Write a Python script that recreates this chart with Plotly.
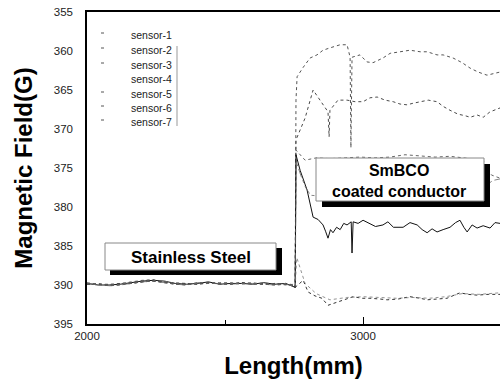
import plotly.graph_objects as go

# ---------------- data ----------------
sensor_names = ["sensor-1", "sensor-2", "sensor-3", "sensor-4", "sensor-5", "sensor-6", "sensor-7"]

# stainless steel section (all sensors overlap near 390 G)
ss_x = [2000, 2040, 2080, 2120, 2160, 2200, 2240, 2280, 2320, 2360, 2400, 2440,
        2480, 2520, 2560, 2600, 2640, 2680, 2720, 2750]
ss_s1 = [389.8, 389.9, 390.0, 389.9, 389.7, 389.5, 389.4, 389.6, 389.8, 389.9, 389.8, 389.7,
         389.9, 389.8, 389.7, 389.9, 389.8, 389.9, 389.8, 390.0]
ss_s2 = [389.9, 389.8, 390.1, 390.0, 389.8, 389.6, 389.5, 389.7, 389.9, 390.0, 389.7, 389.8,
         389.8, 389.9, 389.8, 389.8, 389.9, 390.0, 389.9, 390.1]
ss_s3 = [389.7, 389.9, 389.9, 389.8, 389.6, 389.4, 389.3, 389.7, 389.7, 389.8, 389.9, 389.8,
         389.7, 389.7, 389.9, 389.7, 389.9, 389.8, 390.0, 389.9]
ss_s4 = [389.8, 390.0, 390.0, 389.9, 389.7, 389.5, 389.4, 389.5, 389.8, 389.9, 389.8, 389.6,
         389.9, 389.8, 389.8, 389.9, 389.7, 389.9, 389.8, 390.2]
ss_s5 = [389.9, 389.9, 390.1, 389.8, 389.8, 389.6, 389.5, 389.6, 389.9, 389.8, 389.9, 389.7,
         389.8, 389.9, 389.7, 389.8, 389.9, 389.8, 389.9, 390.1]

# SmBCO coated conductor section, per sensor
s1_x = [2754, 2757, 2761, 2783, 2808, 2833, 2855, 2880, 2917, 2942, 2953, 2956, 2960, 2989, 3014,
        3036, 3072, 3098, 3134, 3170, 3207, 3232, 3268, 3290, 3326, 3359, 3388, 3417, 3449, 3496]
s1_y = [390.3, 366.3, 363.3, 362.1, 360.9, 360.5, 359.9, 359.6, 359.2, 359.2, 360.8, 372.4, 360.8, 360.5, 361.4,
        361.5, 360.9, 360.3, 360.1, 359.9, 360.1, 360.1, 360.5, 360.5, 360.9, 361.5, 362.2, 362.7, 363.1, 362.7]

s2_x = [2754, 2757, 2790, 2819, 2844, 2873, 2877, 2880, 2909, 2942, 2971, 3000, 3025, 3051, 3080, 3109,
        3134, 3159, 3181, 3207, 3236, 3268, 3290, 3315, 3344, 3370, 3388, 3413, 3435, 3460, 3496]
s2_y = [390.3, 371.4, 368.6, 365.0, 366.3, 367.8, 371.0, 367.6, 366.3, 366.3, 366.5, 366.5, 366.0, 365.9, 366.3, 366.5,
        366.8, 366.9, 366.7, 366.5, 366.3, 366.5, 367.1, 367.6, 368.1, 368.3, 368.5, 368.2, 368.5, 367.8, 367.3]

s3_x = [2754, 2757, 2790, 2830, 2880, 2935, 2989, 3043, 3098, 3152, 3207, 3261, 3315, 3370, 3435, 3465, 3496]
s3_y = [390.3, 372.7, 374.0, 373.7, 373.8, 373.7, 373.6, 373.7, 373.6, 373.3, 373.5, 373.6, 373.5, 373.7, 374.0, 375.9, 376.3]

s4_x = [2754, 2757, 2772, 2797, 2819, 2837, 2855, 2864, 2873, 2882, 2891, 2904, 2917, 2930, 2942, 2957, 2960,
        2964, 2982, 3000, 3025, 3045, 3072, 3090, 3110, 3145, 3170, 3196, 3214, 3232, 3250, 3268,
        3290, 3315, 3335, 3351, 3365, 3377, 3395, 3413, 3435, 3460, 3478, 3496]
s4_y = [390.3, 373.3, 375.3, 377.8, 381.3, 381.6, 382.3, 383.1, 384.0, 382.9, 383.3, 382.6, 382.9, 382.1, 382.3, 381.9, 385.9,
        381.9, 382.1, 381.7, 382.1, 382.5, 382.3, 381.9, 382.6, 382.6, 382.0, 382.3, 382.9, 383.3, 382.8, 383.2,
        382.9, 382.6, 382.0, 381.7, 382.6, 383.2, 382.3, 382.7, 382.4, 382.7, 382.0, 382.1]

s5_x = [2754, 2783, 2801, 2826, 2851, 2873, 2906, 2935, 2964, 2996, 3025, 3062, 3087, 3127, 3170, 3207,
        3232, 3268, 3304, 3351, 3380, 3413, 3453, 3496]
s5_y = [390.3, 389.4, 390.9, 391.4, 391.7, 392.6, 392.2, 391.8, 391.5, 391.7, 391.7, 391.8, 391.9, 391.8, 391.5, 391.7,
        391.9, 391.8, 391.7, 391.0, 391.2, 391.3, 391.2, 391.2]

s6_x = [2754, 2760, 2790, 2830, 2880, 2940, 3000, 3060, 3120, 3180, 3240, 3300, 3360, 3420, 3496]
s6_y = [390.2, 386.5, 389.8, 391.1, 391.9, 391.6, 391.5, 391.6, 391.7, 391.6, 391.7, 391.5, 391.1, 391.2, 391.0]

s7_x = [2754, 2758, 2775, 2792, 2810, 2850, 2950, 3050, 3150, 3250, 3350, 3440, 3470, 3496]
s7_y = [390.2, 374.2, 376.0, 377.5, 378.5, 378.6, 378.4, 378.5, 378.3, 378.4, 378.2, 377.4, 376.6, 376.4]

# axis ticks
x_tickvals = [2000, 3000]
x_ticktext = ["2000", "3000"]
y_tickvals = [355, 360, 365, 370, 375, 380, 385, 390, 395]

# ---------------- figure ----------------
W, H = 500, 381
L, T, R, B = 87, 12, 0, 57
PW, PH = W - L - R, H - T - B


def px(x):
    return (x - L) / PW


def py(y):
    return 1 - (y - T) / PH


series = [
    (ss_x + s1_x, ss_s1 + s1_y, dict(color="#555555", width=1, dash="dot")),
    (ss_x + s2_x, ss_s2 + s2_y, dict(color="#4a4a4a", width=1, dash="dot")),
    (ss_x + s3_x, ss_s3 + s3_y, dict(color="#666666", width=1, dash="dot")),
    (ss_x + s4_x, ss_s4 + s4_y, dict(color="#111111", width=1)),
    (ss_x + s5_x, ss_s5 + s5_y, dict(color="#333333", width=1, dash="3px,3px")),
    (ss_x + s6_x, ss_s4 + s6_y, dict(color="#777777", width=0.8, dash="dot")),
    (ss_x + s7_x, ss_s2 + s7_y, dict(color="#666666", width=0.8, dash="dashdot")),
]

fig = go.Figure()
for name, (xs, ys, ln) in zip(sensor_names, series):
    fig.add_trace(go.Scatter(x=xs, y=ys, mode="lines", name=name, line=ln,
                             showlegend=False, hoverinfo="skip"))

shapes = []
annotations = []

# manual legend
leg_rows = [35, 50, 65, 79, 94, 108, 122]
for i, (name, yy) in enumerate(zip(sensor_names, leg_rows)):
    annotations.append(dict(x=px(129), y=py(yy), xref="paper", yref="paper", text=name,
                            showarrow=False, xanchor="left", yanchor="middle",
                            font=dict(size=10.5, color="#222222", family="Liberation Sans, Arial")))
    if i != 3:
        shapes.append(dict(type="line", xref="paper", yref="paper",
                           x0=px(101), x1=px(104), y0=py(yy - 2), y1=py(yy - 2),
                           line=dict(color="#555555", width=1)))
shapes.append(dict(type="line", xref="paper", yref="paper", x0=px(177), x1=px(177),
                   y0=py(46), y1=py(126), line=dict(color="#999999", width=1)))

# Stainless Steel label box
shapes.append(dict(type="rect", xref="paper", yref="paper", x0=px(110), x1=px(282),
                   y0=py(248), y1=py(275), fillcolor="black", line=dict(width=0)))
shapes.append(dict(type="rect", xref="paper", yref="paper", x0=px(105), x1=px(276),
                   y0=py(243), y1=py(270), fillcolor="white", line=dict(color="#888888", width=1)))
annotations.append(dict(x=px(191), y=py(257), xref="paper", yref="paper", text="<b>Stainless Steel</b>",
                        showarrow=False, xanchor="center", yanchor="middle",
                        font=dict(size=17, color="black", family="Liberation Sans, Arial")))

# SmBCO label box
shapes.append(dict(type="rect", xref="paper", yref="paper", x0=px(322), x1=px(490),
                   y0=py(164), y1=py(207), fillcolor="black", line=dict(width=0)))
shapes.append(dict(type="rect", xref="paper", yref="paper", x0=px(316), x1=px(484),
                   y0=py(158), y1=py(201), fillcolor="white", line=dict(color="#888888", width=1)))
annotations.append(dict(x=px(399), y=py(181), xref="paper", yref="paper",
                        text="<b>SmBCO</b><br><b>coated conductor</b>",
                        showarrow=False, xanchor="center", yanchor="middle",
                        font=dict(size=16, color="black", family="Liberation Sans, Arial")))

fig.update_layout(
    width=W, height=H,
    margin=dict(l=L, r=R, t=T, b=B, pad=0, autoexpand=False),
    paper_bgcolor="white", plot_bgcolor="white",
    showlegend=False,
    shapes=shapes,
    annotations=annotations,
    font=dict(family="Liberation Sans, Arial", color="#222222"),
)
fig.update_xaxes(
    range=[2000, 3496], showgrid=False, zeroline=False, automargin=False,
    showline=True, linecolor="black", linewidth=1.5, mirror=True,
    tickvals=x_tickvals, ticktext=x_ticktext, ticks="inside", ticklen=7, tickcolor="black",
    minor=dict(tickvals=[2500], ticks="inside", ticklen=4, tickcolor="black"),
    tickfont=dict(size=11.5, color="#222222"),
    title=dict(text="<b>Length(mm)</b>", font=dict(size=24, color="black"), standoff=17),
)
fig.update_yaxes(
    range=[395, 355], showgrid=False, zeroline=False, automargin=False,
    showline=True, linecolor="black", linewidth=1.5, mirror=False,
    tickvals=y_tickvals, ticks="", ticklabelstandoff=10,
    tickfont=dict(size=11.5, color="#222222"),
    title=dict(text="<b>Magnetic Field(G)</b>", font=dict(size=24, color="black"), standoff=14),
)

fig.write_html("out.html", config={"displayModeBar": False},
               post_script="document.body.style.margin='0';document.body.style.overflow='hidden';")
